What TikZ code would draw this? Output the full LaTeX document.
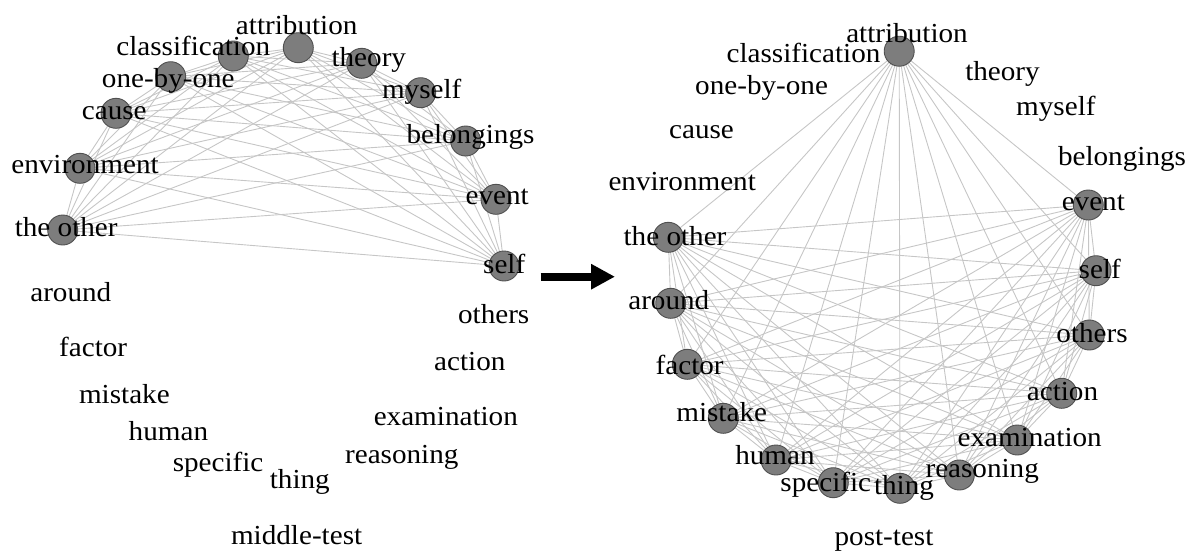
\documentclass[tikz,border=0pt]{standalone}
\usepackage{fontspec}
\setmainfont{Liberation Serif}[FakeStretch=1.06]
\usetikzlibrary{arrows.meta}
\pgfdeclarelayer{bg}
\pgfsetlayers{bg,main}
\definecolor{nodefill}{RGB}{125,125,125}
\definecolor{nodeline}{RGB}{80,80,80}
\definecolor{edgecol}{RGB}{198,198,198}
\begin{document}
\begin{tikzpicture}[x=1pt,y=-1pt,
  vtx/.style={circle,fill=nodefill,draw=nodeline,line width=0.9pt,minimum size=30pt,inner sep=0pt},
  lbl/.style={anchor=base,inner sep=0pt,font=\fontsize{27.5}{27.5}\selectfont},
  edge/.style={draw=edgecol,line width=0.9pt},
  bigarrow/.style={line width=8pt,-{Triangle[length=24pt,width=24pt]}}]
\useasboundingbox (0,0) rectangle (1196,550);

% ---------- left graph: vertices ----------
\node[vtx] (Lattr)  at (298.3,47.7) {};
\node[vtx] (Lclass) at (233.3,56) {};
\node[vtx] (Lone)   at (170.7,76.7) {};
\node[vtx] (Lcause) at (116,113.3) {};
\node[vtx] (Lenv)   at (80,168.3) {};
\node[vtx] (Lother) at (62.7,230) {};
\node[vtx] (Ltheory) at (361.7,63.3) {};
\node[vtx] (Lmyself) at (420.7,92.7) {};
\node[vtx] (Lbelong) at (465.7,141) {};
\node[vtx] (Levent) at (496,199.3) {};
\node[vtx] (Lself)  at (504,266) {};

% ---------- right graph: vertices ----------
\node[vtx] (Rattr)  at (899.2,51.2) {};
\node[vtx] (Revent) at (1088.3,205) {};
\node[vtx] (Rself)  at (1096,270.7) {};
\node[vtx] (Rothers) at (1089.3,335) {};
\node[vtx] (Raction) at (1061.7,393.3) {};
\node[vtx] (Rexam)  at (1017.3,440) {};
\node[vtx] (Rreason) at (959.3,475) {};
\node[vtx] (Rthing) at (900,488.3) {};
\node[vtx] (Rspec)  at (833.3,482.7) {};
\node[vtx] (Rhuman) at (776,460) {};
\node[vtx] (Rmist)  at (723.3,418.3) {};
\node[vtx] (Rfactor) at (687.3,364.3) {};
\node[vtx] (Raround) at (670.7,303.3) {};
\node[vtx] (Rother) at (668.3,237.3) {};

% ---------- edges (complete graphs) ----------
\begin{pgfonlayer}{bg}
\foreach \a [count=\i] in {Lattr,Lclass,Lone,Lcause,Lenv,Lother,Ltheory,Lmyself,Lbelong,Levent,Lself}{
  \foreach \b [count=\j] in {Lattr,Lclass,Lone,Lcause,Lenv,Lother,Ltheory,Lmyself,Lbelong,Levent,Lself}{
    \ifnum\j>\i \draw[edge] (\a.center) -- (\b.center); \fi
  }
}
\foreach \a [count=\i] in {Rattr,Revent,Rself,Rothers,Raction,Rexam,Rreason,Rthing,Rspec,Rhuman,Rmist,Rfactor,Raround,Rother}{
  \foreach \b [count=\j] in {Rattr,Revent,Rself,Rothers,Raction,Rexam,Rreason,Rthing,Rspec,Rhuman,Rmist,Rfactor,Raround,Rother}{
    \ifnum\j>\i \draw[edge] (\a.center) -- (\b.center); \fi
  }
}
\end{pgfonlayer}

% ---------- left labels ----------
\node[lbl] (tLattr)   at (296.7,34.3) {attribution};
\node[lbl] (tLclass)  at (193.3,55) {classification};
\node[lbl] (tLone)    at (168.3,87.3) {one-by-one};
\node[lbl] (tLcause)  at (114.3,119.3) {cause};
\node[lbl] (tLenv)    at (85,173.3) {environment};
\node[lbl] (tLother)  at (66.2,236.7) {the other};
\node[lbl] (tLtheory) at (368.8,66.7) {theory};
\node[lbl] (tLmyself) at (421.7,98.3) {myself};
\node[lbl] (tLbelong) at (470.5,143.3) {belongings};
\node[lbl] (tLevent)  at (497.2,204) {event};
\node[lbl] (tLself)   at (504.2,273.3) {self};
\node[lbl] (tLothers) at (493.7,323.3) {others};
\node[lbl] (tLaction) at (469.8,370) {action};
\node[lbl] (tLexam)   at (445.8,425) {examination};
\node[lbl] (tLreason) at (401.8,463.3) {reasoning};
\node[lbl] (tLthing)  at (299.8,488.3) {thing};
\node[lbl] (tLspec)   at (218.1,471.7) {specific};
\node[lbl] (tLhuman)  at (168.4,440) {human};
\node[lbl] (tLmist)   at (124.4,403.3) {mistake};
\node[lbl] (tLfactor) at (93.2,356) {factor};
\node[lbl] (tLaround) at (70.8,301.7) {around};
\node[lbl] (capL)     at (296.6,544) {middle-test};

% ---------- right labels ----------
\node[lbl] (tRattr)   at (907,42.9) {attribution};
\node[lbl] (tRclass)  at (803.5,62.7) {classification};
\node[lbl] (tRone)    at (761.6,94) {one-by-one};
\node[lbl] (tRcause)  at (701.5,138) {cause};
\node[lbl] (tRenv)    at (682.2,190.8) {environment};
\node[lbl] (tRtheory) at (1002.5,80.9) {theory};
\node[lbl] (tRmyself) at (1055.9,115.5) {myself};
\node[lbl] (tRbelong) at (1122,165) {belongings};
\node[lbl] (tRevent)  at (1093.3,210) {event};
\node[lbl] (tRself)   at (1099.7,278.3) {self};
\node[lbl] (tRothers) at (1092,342.7) {others};
\node[lbl] (tRaction) at (1062.5,400) {action};
\node[lbl] (tRexam)   at (1029.7,446) {examination};
\node[lbl] (tRreason) at (982.2,477.3) {reasoning};
\node[lbl] (tRthing)  at (904,494) {thing};
\node[lbl] (tRspec)   at (825.8,491.7) {specific};
\node[lbl] (tRhuman)  at (775,464) {human};
\node[lbl] (tRmist)   at (721.7,421.7) {mistake};
\node[lbl] (tRfactor) at (689.7,374) {factor};
\node[lbl] (tRaround) at (668.8,309.3) {around};
\node[lbl] (tRother)  at (675,245) {the other};
\node[lbl] (capR)     at (884,545) {post-test};

% ---------- arrow ----------
\coordinate (arrS) at (540.7,276.7);
\coordinate (arrE) at (615,276.7);
\draw[bigarrow] (arrS) -- (arrE);
\end{tikzpicture}
\end{document}
